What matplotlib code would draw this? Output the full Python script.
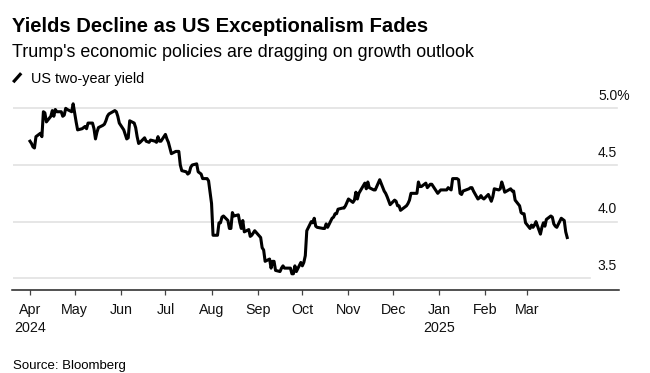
import datetime as dt
import matplotlib
matplotlib.use("Agg")
import matplotlib.pyplot as plt
import matplotlib.dates as mdates
import matplotlib.transforms as mtransforms
from matplotlib.lines import Line2D

plt.rcParams['font.family'] = ['Liberation Sans', 'DejaVu Sans']

# ---------------- data: US two-year yield (%), daily ----------------
apr24_days = [1, 2, 3, 4, 5, 8, 9, 10, 11, 12, 15, 16, 17, 18, 19, 22, 23, 24, 25, 26, 29, 30]
apr24_vals = [4.71, 4.69, 4.66, 4.65, 4.75, 4.78, 4.75, 4.97, 4.96, 4.88, 4.93, 4.98, 4.93, 4.99, 4.97,
              4.97, 4.93, 4.94, 5.00, 4.99, 4.97, 5.04]
may24_days = [1, 2, 3, 6, 7, 8, 9, 10, 13, 14, 15, 16, 17, 20, 21, 22, 23, 24, 28, 29, 30, 31]
may24_vals = [4.96, 4.88, 4.81, 4.82, 4.83, 4.84, 4.82, 4.87, 4.87, 4.82, 4.73, 4.79, 4.83, 4.85, 4.86,
              4.89, 4.93, 4.95, 4.98, 4.97, 4.93, 4.87]
jun24_days = [3, 4, 5, 6, 7, 10, 11, 12, 13, 14, 17, 18, 20, 21, 24, 25, 26, 27, 28]
jun24_vals = [4.81, 4.77, 4.73, 4.74, 4.89, 4.87, 4.83, 4.75, 4.69, 4.70, 4.74, 4.71, 4.70, 4.72, 4.71,
              4.70, 4.75, 4.71, 4.71]
jul24_days = [1, 2, 3, 5, 8, 9, 10, 11, 12, 15, 16, 17, 18, 19, 22, 23, 24, 25, 26, 29, 30, 31]
jul24_vals = [4.77, 4.73, 4.70, 4.60, 4.62, 4.62, 4.62, 4.50, 4.45, 4.44, 4.42, 4.43, 4.48, 4.50, 4.51,
              4.44, 4.43, 4.42, 4.38, 4.38, 4.36, 4.26]
aug24_days = [1, 2, 5, 6, 7, 8, 9, 12, 13, 14, 15, 16, 19, 20, 21, 22, 23, 26, 27, 28, 29, 30]
aug24_vals = [4.16, 3.88, 3.88, 3.99, 3.99, 4.04, 4.05, 4.01, 3.94, 3.94, 4.08, 4.05, 4.06, 3.99, 3.94,
              4.01, 3.91, 3.93, 3.87, 3.88, 3.90, 3.92]
sep24_days = [3, 4, 5, 6, 9, 10, 11, 12, 13, 16, 17, 18, 19, 20, 23, 24, 25, 26, 27, 30]
sep24_vals = [3.86, 3.77, 3.75, 3.65, 3.67, 3.59, 3.65, 3.65, 3.57, 3.56, 3.59, 3.61, 3.59, 3.59, 3.59,
              3.54, 3.54, 3.61, 3.56, 3.64]
oct24_days = [1, 2, 3, 4, 7, 8, 9, 10, 11, 15, 16, 17, 18, 21, 22, 23, 24, 25, 28, 29, 30, 31]
oct24_vals = [3.61, 3.64, 3.70, 3.92, 4.00, 3.99, 4.03, 3.96, 3.95, 3.94, 3.94, 3.98, 3.95, 4.03, 4.04,
              4.07, 4.07, 4.11, 4.12, 4.12, 4.14, 4.17]
nov24_days = [1, 4, 5, 6, 7, 8, 12, 13, 14, 15, 18, 19, 20, 21, 22, 25, 26, 27, 29]
nov24_vals = [4.20, 4.17, 4.19, 4.26, 4.20, 4.25, 4.34, 4.29, 4.35, 4.30, 4.28, 4.28, 4.31, 4.34, 4.37,
              4.27, 4.25, 4.22, 4.15]
dec24_days = [2, 3, 4, 5, 6, 9, 10, 11, 12, 13, 16, 17, 18, 19, 20, 23, 24, 26, 27, 30, 31]
dec24_vals = [4.19, 4.18, 4.14, 4.14, 4.10, 4.13, 4.14, 4.16, 4.19, 4.25, 4.25, 4.25, 4.35, 4.31, 4.31,
              4.34, 4.30, 4.33, 4.33, 4.27, 4.25]
jan25_days = [2, 3, 6, 7, 8, 9, 10, 13, 14, 15, 16, 17, 21, 22, 23, 24, 27, 28, 29, 30, 31]
jan25_vals = [4.28, 4.28, 4.28, 4.30, 4.29, 4.28, 4.38, 4.38, 4.37, 4.25, 4.24, 4.27, 4.29, 4.30, 4.30,
              4.27, 4.20, 4.21, 4.23, 4.21, 4.20]
feb25_days = [3, 4, 5, 6, 7, 10, 11, 12, 13, 14, 18, 19, 20, 21, 24, 25, 26, 27, 28]
feb25_vals = [4.24, 4.21, 4.18, 4.22, 4.29, 4.28, 4.29, 4.35, 4.31, 4.26, 4.29, 4.27, 4.27, 4.19, 4.14,
              4.08, 4.07, 4.07, 3.99]
mar25_days = [3, 4, 5, 6, 7, 10, 11, 12, 13, 14, 17, 18, 19, 20, 21, 24, 25, 26, 27, 28]
mar25_vals = [3.94, 3.97, 3.95, 3.97, 4.00, 3.89, 3.95, 3.99, 3.96, 4.02, 4.05, 4.04, 3.98, 3.96, 3.95,
              4.03, 4.02, 4.01, 3.91, 3.86]

months = [(2024, 4, apr24_days, apr24_vals), (2024, 5, may24_days, may24_vals),
          (2024, 6, jun24_days, jun24_vals), (2024, 7, jul24_days, jul24_vals),
          (2024, 8, aug24_days, aug24_vals), (2024, 9, sep24_days, sep24_vals),
          (2024, 10, oct24_days, oct24_vals), (2024, 11, nov24_days, nov24_vals),
          (2024, 12, dec24_days, dec24_vals), (2025, 1, jan25_days, jan25_vals),
          (2025, 2, feb25_days, feb25_vals), (2025, 3, mar25_days, mar25_vals)]

tick_labels = ["Apr\n2024", "May", "Jun", "Jul", "Aug", "Sep", "Oct", "Nov", "Dec",
               "Jan\n2025", "Feb", "Mar"]
y_ticks = [3.5, 4.0, 4.5, 5.0]
y_tick_labels = ["3.5", "4.0", "4.5", "5.0%"]

title = "Yields Decline as US Exceptionalism Fades"
subtitle = "Trump's economic policies are dragging on growth outlook"
legend_label = "US two-year yield"
source = "Source: Bloomberg"

dates, values = [], []
for y, m, days, vals in months:
    assert len(days) == len(vals)
    for d, v in zip(days, vals):
        dates.append(dt.date(y, m, d))
        values.append(v)
tick_dates = [dt.date(y, m, 1) for y, m, _, _ in months]

# ---------------- figure ----------------
W, H = 650, 373
fig = plt.figure(figsize=(W / 100, H / 100), dpi=100)
fig.patch.set_facecolor("white")


def fx(px):
    return px / W


def fy(py):
    return 1 - py / H


ax_left, ax_right, ax_bottom, ax_top = 12.5, 619, 290, 97
ax = fig.add_axes([fx(ax_left), fy(ax_bottom), (ax_right - ax_left) / W, (ax_bottom - ax_top) / H])

ax.plot(dates, values, color="black", lw=2.2, solid_joinstyle="round", zorder=3)

ax.set_ylim(3.397, 5.1)
x0 = dt.date(2024, 4, 1)
ax.set_xlim(mdates.date2num(x0) - 11.76, mdates.date2num(x0) + 395.8)

span = ax_right - ax_left
label_x = (617 - ax_left) / span
for v, lab in zip(y_ticks, y_tick_labels):
    xmax = label_x if v != 3.5 else (590 - ax_left) / span
    ax.axhline(v, xmin=0, xmax=xmax, color="#e1e1e1", lw=1.2, zorder=1)
    trans = mtransforms.offset_copy(
        mtransforms.blended_transform_factory(ax.transAxes, ax.transData),
        fig=fig, y=8.3, units="dots")
    lx = label_x if not lab.endswith("%") else (630 - ax_left) / span
    ax.text(lx, v, lab, transform=trans, ha="right", va="baseline",
            fontsize=10, color="#111111", clip_on=False)

ax.set_xticks(tick_dates)
ax.set_xticklabels(tick_labels, fontsize=10.3, color="#111111", linespacing=1.3)
ax.tick_params(axis="x", length=3.6, width=0.9, color="#444444", pad=6)
ax.set_yticks([])
for s in ["left", "right", "top"]:
    ax.spines[s].set_visible(False)
ax.spines["bottom"].set_color("#222222")
ax.spines["bottom"].set_linewidth(1.1)
ax.set_facecolor("white")

# ---------------- header texts ----------------
fig.text(fx(12.5), fy(31.7), title, fontsize=14.6, fontweight="bold", va="baseline", color="black")
fig.text(fx(12.5), fy(57.3), subtitle, fontsize=12.85, va="baseline", color="black")
fig.add_artist(Line2D([fx(13.2), fx(21.2)], [fy(82.2), fy(73.2)], color="black", lw=2.3,
                      solid_capstyle="butt", transform=fig.transFigure))
fig.text(fx(31), fy(82.7), legend_label, fontsize=10.4, va="baseline", color="black")
fig.text(fx(12.7), fy(369.3), source, fontsize=9.5, va="baseline", color="black")

fig.savefig("out.png", dpi=100, facecolor="white")
